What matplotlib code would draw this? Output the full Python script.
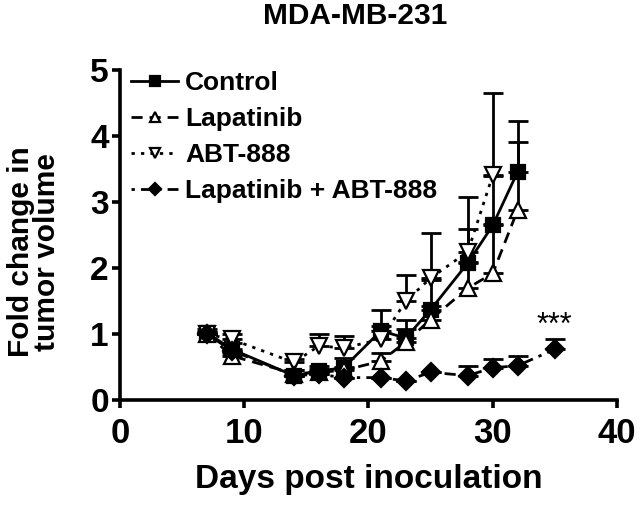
import numpy as np
import matplotlib
matplotlib.use('Agg')
import matplotlib.pyplot as plt

plt.rcParams['font.family'] = ['Liberation Sans', 'DejaVu Sans']
plt.rcParams['font.weight'] = 'bold'

# data (upper error bars only)
days_ctrl = [7, 9, 14, 16, 18, 21, 23, 25, 28, 30, 32]
ctrl = [1.02, 0.77, 0.37, 0.44, 0.49, 1.05, 0.94, 1.37, 2.08, 2.65, 3.46]
ctrl_err = [0.05, 0.1, 0.08, 0.08, 0.15, 0.32, 0.28, 0.45, 0.52, 0.75, 0.78]

days_lap = [7, 9, 14, 16, 18, 21, 23, 25, 28, 30, 32]
lap = [1.0, 0.67, 0.4, 0.42, 0.45, 0.59, 0.88, 1.22, 1.70, 1.92, 2.88]
lap_err = [0.03, 0.05, 0.05, 0.05, 0.05, 0.13, 0.2, 0.2, 0.4, 0.75, 1.03]

days_abt = [7, 9, 14, 16, 18, 21, 23, 25, 28, 30]
abt = [1.0, 0.92, 0.57, 0.82, 0.79, 0.92, 1.5, 1.85, 2.25, 3.41]
abt_err = [0.03, 0.08, 0.05, 0.18, 0.18, 0.2, 0.4, 0.68, 0.83, 1.25]

days_combo = [7, 9, 14, 16, 18, 21, 23, 25, 28, 30, 32, 35]
combo = [1.0, 0.75, 0.37, 0.39, 0.34, 0.34, 0.29, 0.42, 0.37, 0.49, 0.52, 0.77]
combo_err = [0, 0, 0, 0, 0, 0, 0, 0, 0.15, 0.13, 0.15, 0.15]

fig = plt.figure(figsize=(6.44, 5.05), dpi=100)
ax = fig.add_axes([0.1863, 0.2079, 0.7717, 0.6525])

series = [
    (days_ctrl, ctrl, ctrl_err, 'Control', '-', 's', 'black', 10.5),
    (days_lap, lap, lap_err, 'Lapatinib', (0, (4, 2.5)), '^', 'white', 11),
    (days_abt, abt, abt_err, 'ABT-888', (0, (1.2, 2.2)), 'v', 'white', 11),
    (days_combo, combo, combo_err, 'Lapatinib + ABT-888', (0, (1.2, 2.2, 4, 2.2)), 'D', 'black', 9),
]
for x, y, e, lab, ls, mk, fc, ms in series:
    e = np.array(e)
    ax.errorbar(x, y, yerr=[np.zeros_like(e), e], fmt='none', ecolor='black',
                elinewidth=2, capsize=7.5, capthick=2)
    ax.plot(x, y, linestyle=ls, color='black', lw=2, marker=mk, markersize=ms,
            markerfacecolor=fc, markeredgecolor='black', markeredgewidth=1.6, label=lab)

ax.text(35, 0.9, '***', ha='center', va='bottom', fontsize=22, fontweight='normal')

ax.set_xlim(0, 40)
ax.set_ylim(0, 5)
ax.set_xticks([0, 10, 20, 30, 40])
ax.set_yticks([0, 1, 2, 3, 4, 5])
for s in ['top', 'right']:
    ax.spines[s].set_visible(False)
for s in ['left', 'bottom']:
    ax.spines[s].set_linewidth(2.6)
ax.tick_params(axis='both', width=2.6, length=6, labelsize=24)
ax.tick_params(axis='x', pad=6, labelsize=25)
ax.tick_params(axis='y', pad=2)
for t in ax.get_xticklabels() + ax.get_yticklabels():
    t.set_fontweight('bold')

ax.set_xlabel('Days post inoculation', fontsize=24, fontweight='bold', labelpad=10)
ax.set_ylabel('Fold change in\ntumor volume', fontsize=21.5, fontweight='bold',
              linespacing=0.9)
ax.yaxis.set_label_coords(-0.119, 0.45)
fig.text(0.552, 0.968, 'MDA-MB-231', ha='center', va='center', fontsize=21.5, fontweight='bold')

ax.legend(loc='upper left', bbox_to_anchor=(0.022, 0.998), frameon=False,
          handlelength=1.8, handletextpad=0.25, labelspacing=0.45, borderaxespad=0,
          borderpad=0, markerscale=0.65, prop={'weight': 'bold', 'size': 19})

fig.savefig('out.png', dpi=100)
